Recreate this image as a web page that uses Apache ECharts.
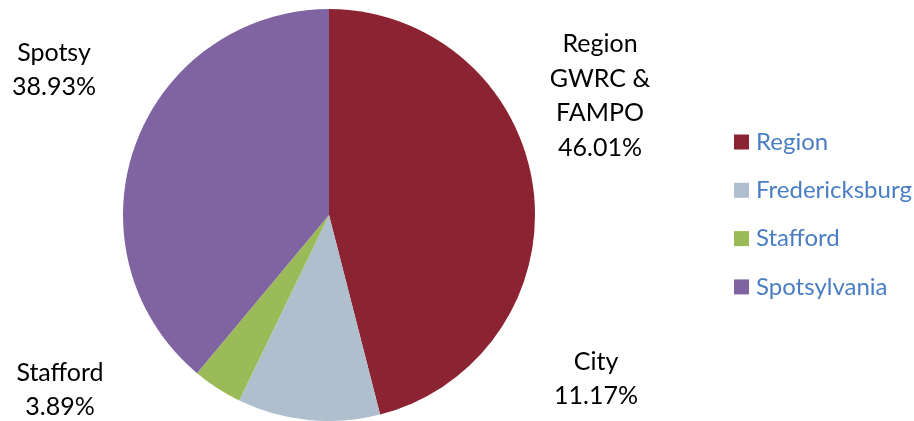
<!DOCTYPE html>
<html><head><meta charset="utf-8">
<script src="https://cdn.jsdelivr.net/npm/echarts@6/dist/echarts.min.js"></script>
<style>html,body{margin:0;padding:0;background:#fff}#c{width:914px;height:421px}</style>
</head><body><div id="c"></div>
<script>
const categories = ['Region', 'Fredericksburg', 'Stafford', 'Spotsylvania'];
const values = [46.01, 11.17, 3.89, 38.93];
const labelNames = ['Region\nGWRC &\nFAMPO', 'City', 'Stafford', 'Spotsy'];
const colors = ['#8B2332', '#AFBFCD', '#9BBB59', '#8064A2'];
const labelPos = [[600, 96], [596, 379], [60, 390], [54, 70]];

const chart = echarts.init(document.getElementById('c'));
chart.setOption({
  animation: false,
  legend: {
    orient: 'vertical', left: 729, top: 125,
    itemWidth: 15, itemHeight: 15, itemGap: 24.3, icon: 'rect',
    textStyle: { color: '#4A7EC4', fontSize: 24, fontFamily: 'Lato', padding: [0, 0, 0, 2] },
    data: categories
  },
  series: [{
    type: 'pie', center: [329, 215], radius: 206, startAngle: 90, clockwise: true,
    data: categories.map((c, i) => ({ name: c, value: values[i], itemStyle: { color: colors[i] } })),
    label: {
      show: true, position: 'outside', fontFamily: 'Lato', fontSize: 25, lineHeight: 34.5,
      color: '#000', align: 'center', overflow: 'none', width: 200,
      formatter: p => labelNames[p.dataIndex] + '\n' + values[p.dataIndex].toFixed(2) + '%'
    },
    labelLine: { show: false },
    labelLayout: p => ({ x: labelPos[p.dataIndex][0], y: labelPos[p.dataIndex][1], align: 'center', verticalAlign: 'middle' })
  }]
});
</script></body></html>
